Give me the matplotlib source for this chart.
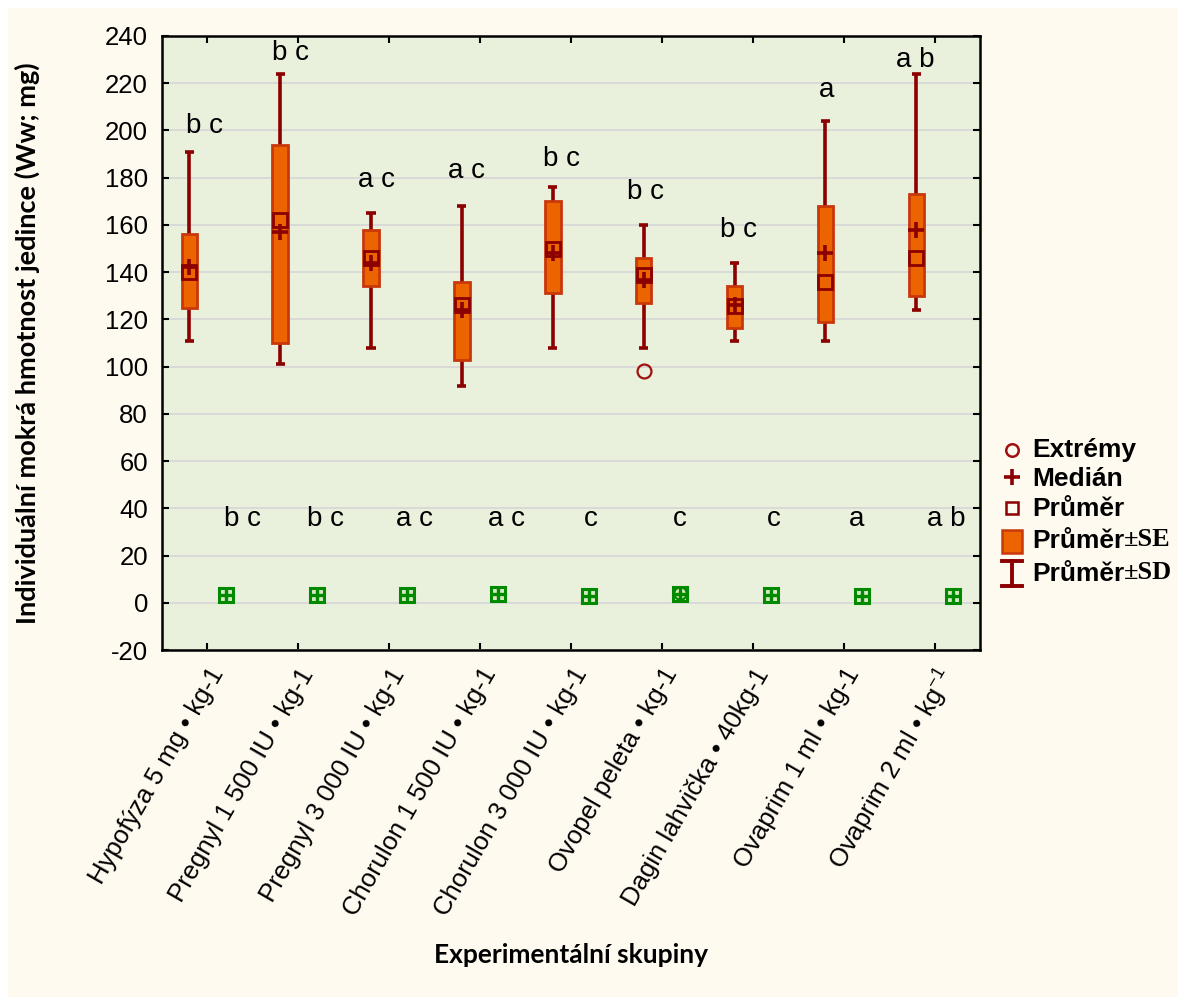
import numpy as np
import matplotlib
matplotlib.use("Agg")
import matplotlib.pyplot as plt
from matplotlib.patches import Rectangle

plt.rcParams['font.family'] = ['Liberation Sans', 'DejaVu Sans']
plt.rcParams['mathtext.fontset'] = 'custom'
plt.rcParams['mathtext.rm'] = 'Liberation Sans'
plt.rcParams['mathtext.it'] = 'Liberation Sans:italic'

# data
groups = [
    "Hypofýza 5 mg • kg-1",
    "Pregnyl 1 500 IU • kg-1",
    "Pregnyl 3 000 IU • kg-1",
    "Chorulon 1 500 IU • kg-1",
    "Chorulon 3 000 IU • kg-1",
    "Ovopel peleta • kg-1",
    "Dagin lahvička • 40kg-1",
    "Ovaprim 1 ml • kg-1",
    r"Ovaprim 2 ml • kg$^{-1}$",
]
mean = [140, 162, 146, 126, 150, 139, 125.5, 136, 146]
median = [142, 157, 144, 124, 148, 136.5, 126, 148, 158]
se_lo = [125, 110, 134, 103, 131, 127, 116.5, 119, 130]
se_hi = [156, 194, 158, 136, 170, 146, 134, 168, 173]
sd_lo = [111, 101, 108, 92, 108, 108, 111, 111, 124]
sd_hi = [191, 224, 165, 168, 176, 160, 144, 204, 224]
extreme_group = [5]
extreme_val = [98]

green_val = [3.3, 3.5, 3.1, 3.9, 3.0, 3.8, 3.1, 2.9, 2.9]
green_extreme_group = [5]
green_extreme_val = [4.0]

letters_top = ["b c", "b c", "a c", "a c", "b c", "b c", "b c", "a", "a b"]
letters_top_y = [202, 233, 179, 183, 188, 174, 158, 217, 230]
letters_top_dx = [0.17, 0.11, 0.055, 0.045, 0.09, 0.015, 0.04, 0.015, -0.015]
letters_low = ["b c", "b c", "a c", "a c", "c", "c", "c", "a", "a b"]
letters_low_y = 35.5
letters_low_dx = [0.19, 0.10, 0.08, 0.085, 0.02, 0.0, 0.03, -0.055, -0.075]

DARK = '#8b0000'
ORANGE = '#ec6400'
EDGE = '#c8380a'
GREEN = '#008a00'

fig = plt.figure(figsize=(11.86, 10.05), dpi=100)
fig.patch.set_facecolor('white')
fig.patches.append(Rectangle((8 / 1186, 8 / 1005), 1170 / 1186, 989 / 1005,
                             transform=fig.transFigure, facecolor='#fffaf0',
                             edgecolor='none', zorder=-10))

ax = fig.add_axes([162 / 1186, 1 - 650 / 1005, 818 / 1186, 614 / 1005])
ax.set_facecolor('#e9f0dc')

x = np.arange(len(groups))
xb = x - 0.2
xg = x + 0.2

# whiskers (mean +- SD)
ax.vlines(xb, sd_lo, sd_hi, color=DARK, lw=2.6, zorder=3)
ax.hlines(sd_lo, xb - 0.05, xb + 0.05, color=DARK, lw=2.6, zorder=3)
ax.hlines(sd_hi, xb - 0.05, xb + 0.05, color=DARK, lw=2.6, zorder=3)

# boxes (mean +- SE)
ax.bar(xb, np.array(se_hi) - np.array(se_lo), bottom=se_lo, width=0.17,
       color=ORANGE, edgecolor=EDGE, linewidth=2, zorder=4)

ax.plot(xb, mean, 's', ms=10, mfc='none', mec=DARK, mew=2, zorder=5)
ax.plot(xb, median, '+', ms=11, mec=DARK, mew=2.6, zorder=6)
ax.plot(xb[extreme_group], extreme_val, 'o', ms=10, mfc='none',
        mec='#a01010', mew=1.6, zorder=5)

# second (near-zero) series
ax.plot(xg, green_val, 's', ms=10.5, mfc='#d8e8c4', mec=GREEN, mew=2.2, zorder=5)
ax.plot(xg, green_val, '+', ms=9, mec=GREEN, mew=2.4, zorder=6)
ax.plot(xg[green_extreme_group], green_extreme_val, 'o', ms=9, mfc='none',
        mec=GREEN, mew=1.6, zorder=5)

for i in range(len(groups)):
    ax.text(xb[i] + letters_top_dx[i], letters_top_y[i], letters_top[i],
            ha='center', va='center', fontsize=20)
    ax.text(xg[i] + letters_low_dx[i], letters_low_y, letters_low[i],
            ha='center', va='center', fontsize=20)

ax.set_xlim(-0.5, 8.5)
ax.set_ylim(-20, 240)
ax.set_yticks(np.arange(-20, 241, 20))
ax.set_yticklabels([str(v) for v in range(-20, 241, 20)])
ax.set_xticks(x)
ax.set_xticklabels(groups, rotation=60, ha='right', va='top',
                   rotation_mode='anchor', fontsize=18.5)
ax.yaxis.grid(True, color='#d6d6d6', lw=1.2)
ax.set_axisbelow(True)
ax.tick_params(axis='y', labelsize=18.5, direction='in', length=5, pad=10,
               right=True, width=1.5)
ax.tick_params(axis='x', direction='in', length=5, pad=10, top=True, width=1.5)
for s in ax.spines.values():
    s.set_linewidth(1.8)

ax.set_ylabel("Individuální mokrá hmotnost jedince (Ww; mg)", family='Lato',
              fontweight='bold', fontsize=19.5)
ax.yaxis.set_label_coords(-122 / 818, 0.5)
fig.text(571 / 1186, 1 - 955 / 1005, "Experimentální skupiny", family='Lato',
         fontweight='bold', fontsize=19, ha='center', va='center')

# legend drawn by hand in pixel coordinates
lg = fig.add_axes([0, 0, 1, 1], facecolor='none')
lg.set_xlim(0, 1186)
lg.set_ylim(1005, 0)
lg.axis('off')
mx, tx = 1012, 1032
lg.plot(mx, 450, 'o', ms=9, mfc='none', mec='#a01010', mew=1.8)
lg.plot(mx, 477, '+', ms=11, mec=DARK, mew=2.6)
lg.plot(mx, 508, 's', ms=8.5, mfc='none', mec=DARK, mew=1.8)
lg.add_patch(Rectangle((1002, 530), 20, 23, facecolor=ORANGE, edgecolor=EDGE, lw=1.8))
lg.plot([1002, 1022], [561, 561], color=DARK, lw=2.8)
lg.plot([1002, 1022], [586, 586], color=DARK, lw=2.8)
lg.plot([1012, 1012], [561, 586], color=DARK, lw=2.8)

lkw = dict(fontsize=19, fontweight='bold', va='center', ha='left')
lg.text(tx, 450, "Extrémy", **lkw)
lg.text(tx, 479, "Medián", **lkw)
lg.text(tx, 509, "Průměr", **lkw)
t1 = lg.text(tx, 541, "Průměr", **lkw)
t2 = lg.text(tx, 574, "Průměr", **lkw)
lg.annotate("±SE", xy=(1, 0.08), xycoords=t1, va='bottom', ha='left', fontsize=19,
            fontweight='bold', family='Liberation Serif')
lg.annotate("±SD", xy=(1, 0.08), xycoords=t2, va='bottom', ha='left', fontsize=19,
            fontweight='bold', family='Liberation Serif')

fig.savefig('out.png', dpi=100, facecolor=fig.get_facecolor())
